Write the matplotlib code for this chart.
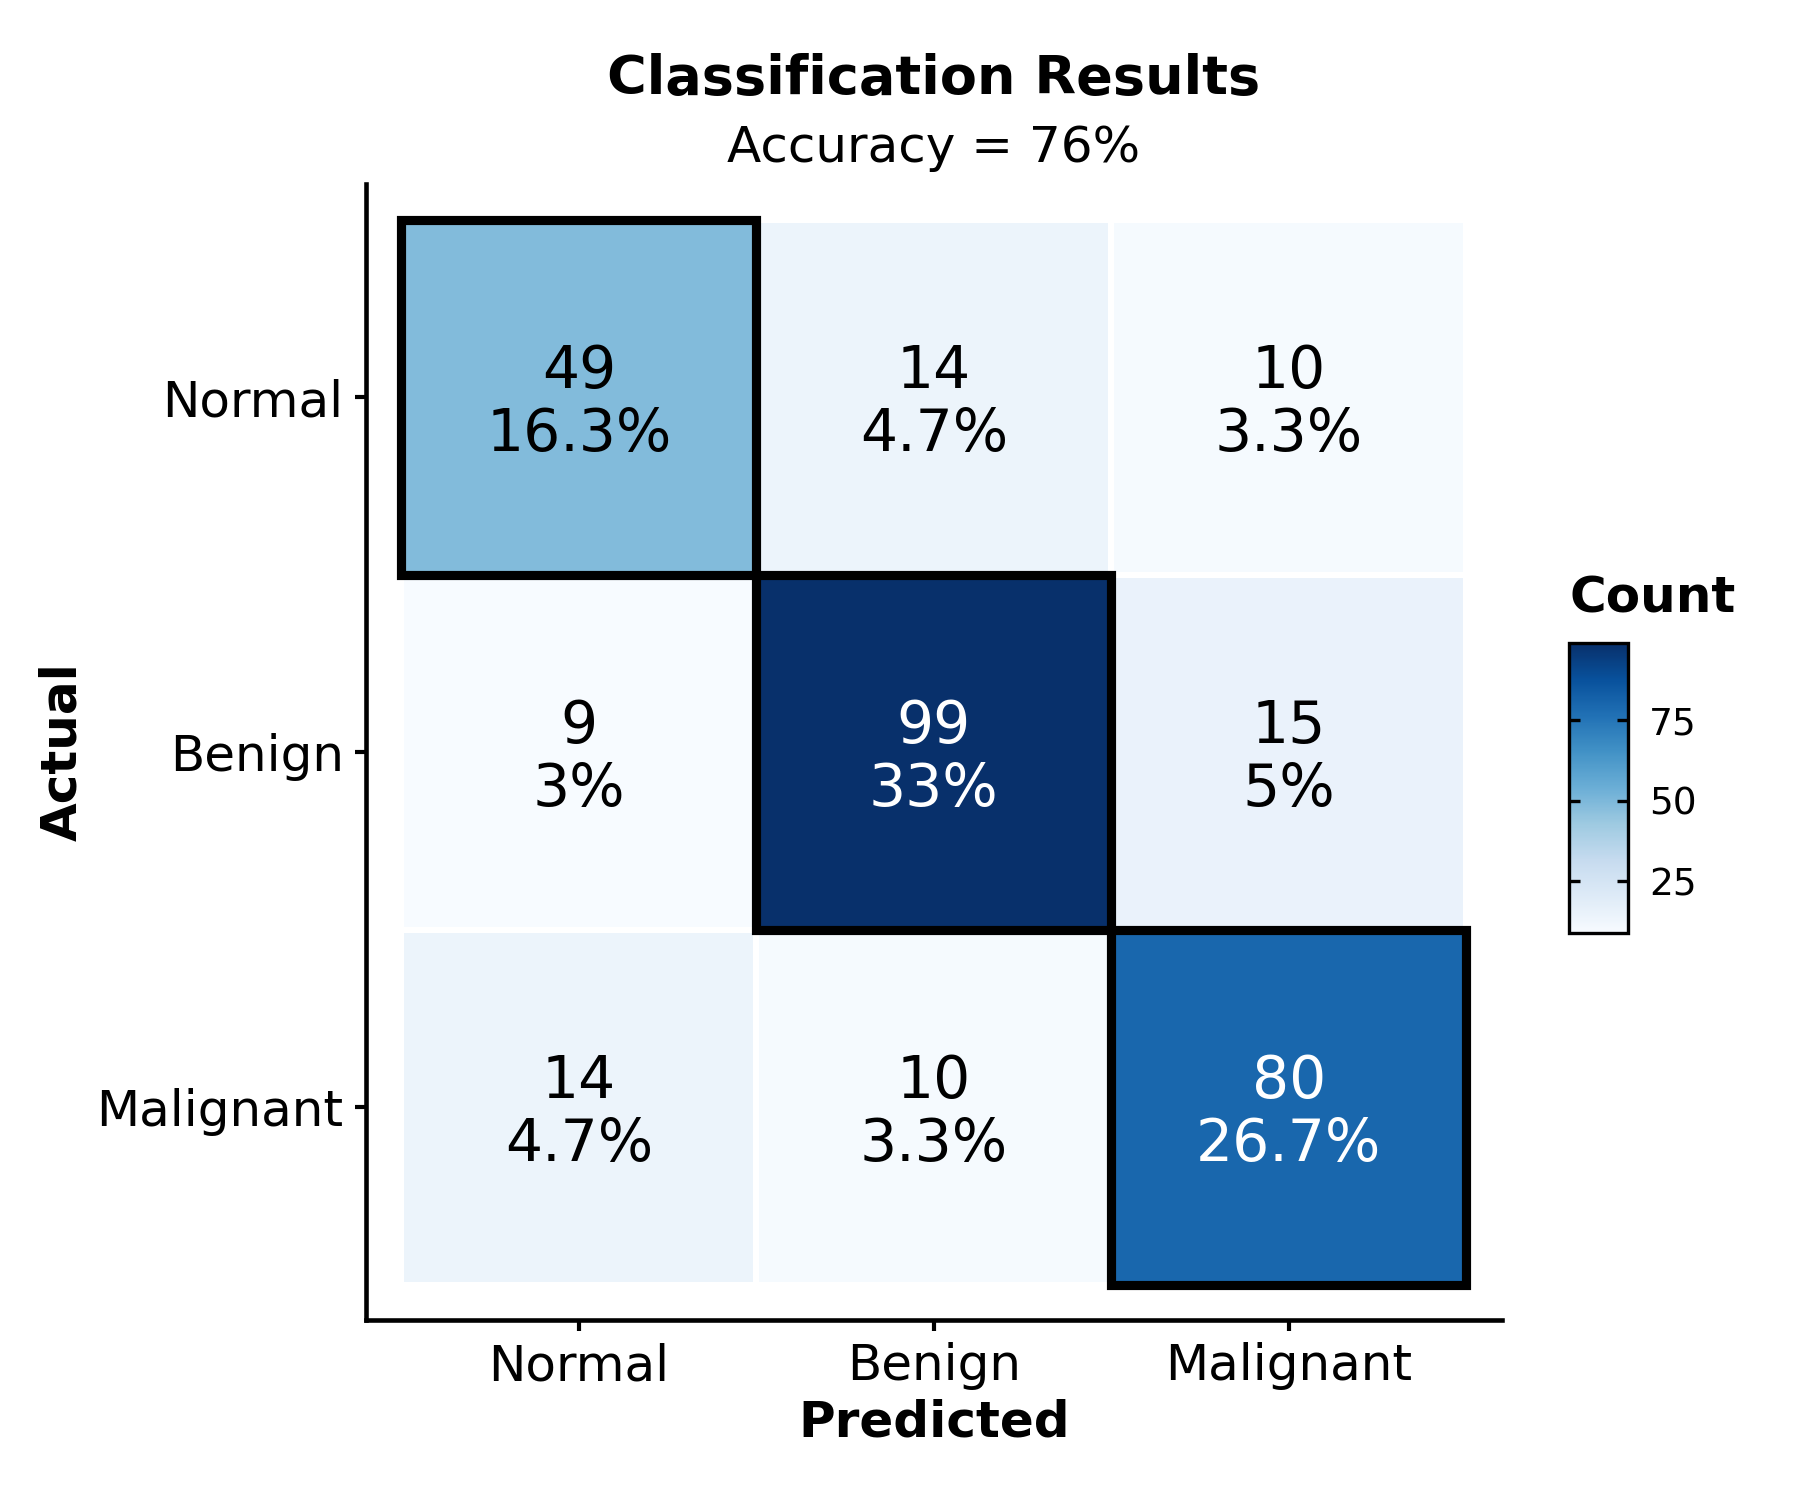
import numpy as np
import matplotlib
matplotlib.use("Agg")
import matplotlib.pyplot as plt
from matplotlib.patches import Rectangle
from matplotlib.transforms import offset_copy

# ---- data ----
categories = ["Normal", "Benign", "Malignant"]
actual_labels = ["Normal", "Benign", "Malignant"]
predicted_labels = ["Normal", "Benign", "Malignant"]
# rows = Actual, cols = Predicted
counts = np.array([
    [49, 14, 10],
    [9, 99, 15],
    [14, 10, 80],
])
title = "Classification Results"
total = counts.sum()
accuracy = np.trace(counts) / total * 100
subtitle = f"Accuracy = {accuracy:.0f}%"

plt.rcParams['font.family'] = ['DejaVu Sans']

fig = plt.figure(figsize=(6, 5), dpi=300)
ax = fig.add_axes([0.2033, 0.12, 0.6311, 0.7573])

n = len(categories)
edges = np.arange(n + 1) + 0.5
vmin, vmax = counts.min(), counts.max()
mesh = ax.pcolormesh(edges, edges, counts, cmap="Blues", vmin=vmin, vmax=vmax,
                     edgecolors="white", linewidth=1.0)

# highlight diagonal
for i in range(n):
    ax.add_patch(Rectangle((i + 0.5, i + 0.5), 1, 1, fill=False,
                           edgecolor="black", linewidth=2.2, zorder=3,
                           joinstyle="miter"))

def fmt_pct(v):
    p = round(v / total * 100, 1)
    s = f"{p:.1f}"
    if s.endswith(".0"):
        s = s[:-2]
    return s + "%"

text_tr = offset_copy(ax.transData, fig=fig, x=0, y=-6, units="dots")
thresh = (vmin + vmax) / 2 + 15
for r in range(n):
    for c in range(n):
        v = counts[r, c]
        col = "white" if v > thresh else "black"
        ax.text(c + 1, r + 1, f"{v}\n{fmt_pct(v)}", ha="center", va="center",
                fontsize=14, color=col, linespacing=1.15, zorder=4,
                transform=text_tr)

ax.set_xlim(0.4, 3.6)
ax.set_ylim(3.6, 0.4)
ax.set_xticks(np.arange(1, n + 1))
ax.set_xticklabels(predicted_labels)
ax.set_yticks(np.arange(1, n + 1))
ax.set_yticklabels(actual_labels)
ax.tick_params(axis="both", labelsize=12, length=2.75, width=1.0, pad=2.6, colors="black")

for s in ["top", "right"]:
    ax.spines[s].set_visible(False)
for s in ["left", "bottom"]:
    ax.spines[s].set_linewidth(1.1)
    ax.spines[s].set_color("black")

ax.set_xlabel("Predicted", fontsize=12, fontweight="bold")
ax.xaxis.set_label_coords(0.5, -0.09)
ax.xaxis.label.set_va("center")
ax.set_ylabel("Actual", fontsize=12, fontweight="bold")
ax.yaxis.set_label_coords(-0.267, 0.5)
ax.yaxis.label.set_va("center")

fig.text(0.5189, 0.9475, title, ha="center", va="center", fontsize=13, fontweight="bold")
fig.text(0.5189, 0.901, subtitle, ha="center", va="center", fontsize=12)

# colorbar
cax = fig.add_axes([0.8717, 0.378, 0.0328, 0.1933])
cb = fig.colorbar(mesh, cax=cax, ticks=[25, 50, 75])
cb.outline.set_linewidth(0.8)
cb.outline.set_edgecolor("black")
cax.tick_params(axis="y", direction="in", length=2.6, width=0.8, left=True, right=True,
                labelsize=9, pad=5, colors="black")
fig.text(0.8717, 0.6013, "Count", ha="left", va="center", fontsize=12, fontweight="bold")

fig.savefig("out.png", dpi=300, facecolor="white")
